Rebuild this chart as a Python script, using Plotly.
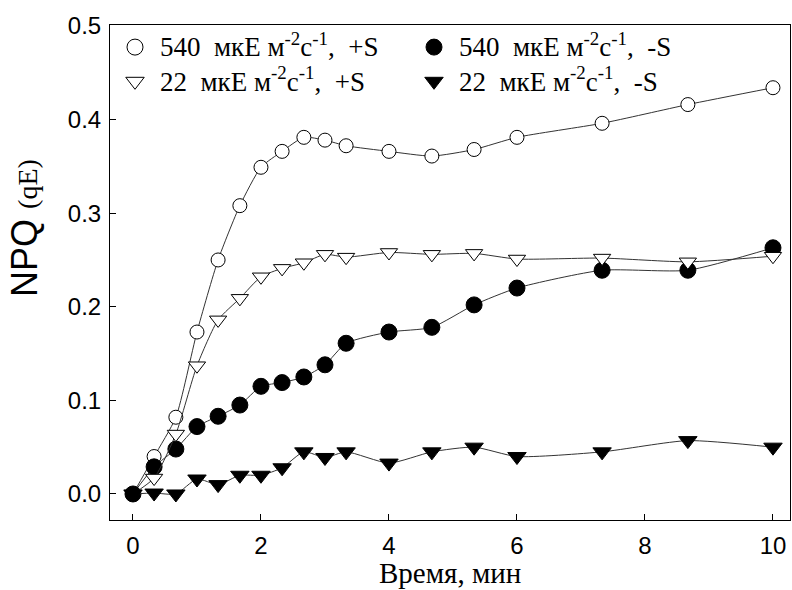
import plotly.graph_objects as go

time_min = [0, 0.33, 0.67, 1, 1.33, 1.67, 2, 2.33, 2.67, 3, 3.33, 4, 4.67, 5.33, 6, 7.33, 8.67, 10]
npq_540_plusS = [0.0, 0.040, 0.082, 0.173, 0.250, 0.308, 0.349, 0.366, 0.381, 0.378, 0.372, 0.366, 0.361, 0.368, 0.381, 0.396, 0.416, 0.434]
npq_540_minusS = [0.0, 0.029, 0.048, 0.072, 0.083, 0.095, 0.115, 0.119, 0.125, 0.138, 0.161, 0.173, 0.178, 0.202, 0.220, 0.239, 0.239, 0.263]
npq_22_plusS = [0.0, 0.017, 0.064, 0.137, 0.186, 0.209, 0.232, 0.241, 0.247, 0.256, 0.253, 0.258, 0.256, 0.257, 0.251, 0.252, 0.248, 0.254]
npq_22_minusS = [0.0, 0.001, 0.0, 0.016, 0.010, 0.020, 0.020, 0.028, 0.045, 0.039, 0.045, 0.033, 0.045, 0.050, 0.040, 0.045, 0.057, 0.050]

unit = "мкЕ м<sup>-2</sup>с<sup>-1</sup>,"
labels = [f"540  {unit}  +S", f"540  {unit}  -S", f"22  {unit}  +S", f"22  {unit}  -S"]
series = [npq_540_plusS, npq_540_minusS, npq_22_plusS, npq_22_minusS]
symbols = ["circle", "circle", "triangle-down", "triangle-down"]
fills = ["white", "black", "white", "black"]
sizes = [14, 16, 15, 16]

fig = go.Figure()
for ys, sym, fc, sz in zip(series, symbols, fills, sizes):
    fig.add_trace(go.Scatter(
        x=time_min, y=ys, mode="lines+markers", showlegend=False,
        line=dict(color="#333333", width=1, shape="spline", smoothing=0.6),
        marker=dict(symbol=sym, size=sz, color=fc, line=dict(color="black", width=1)),
    ))
for lab, sym, fc in zip(labels, symbols, fills):
    fig.add_trace(go.Scatter(
        x=[None], y=[None], mode="markers",
        name=f"<span style='font-size:27px'>{lab}</span>",
        marker=dict(symbol=sym, size=18, color=fc, line=dict(color="black", width=1)),
    ))

axis_common = dict(
    showline=True, linecolor="black", linewidth=1, mirror=True,
    ticks="inside", ticklen=6, tickcolor="black", tickwidth=1,
    showgrid=False, zeroline=False,
    tickfont=dict(family="Liberation Sans, Arial", size=24, color="black"),
)

fig.update_layout(
    width=792, height=590,
    margin=dict(l=110, r=2, t=25, b=70),
    paper_bgcolor="white", plot_bgcolor="white",
    xaxis=dict(range=[-0.359, 10.266], tickvals=[0, 2, 4, 6, 8, 10],
               ticklabelstandoff=4,
               **axis_common),
    yaxis=dict(range=[-0.0278, 0.501], tickvals=[0, 0.1, 0.2, 0.3, 0.4, 0.5],
               tickformat=".1f", ticklabelstandoff=3,
               **axis_common),
    legend=dict(orientation="h", x=0.0, y=1.0, xanchor="left", yanchor="top",
                entrywidth=244, entrywidthmode="pixels", bgcolor="rgba(0,0,0,0)",
                itemwidth=40, itemsizing="trace",
                font=dict(family="Liberation Serif, Times New Roman", size=24, color="black")),
    annotations=[
        dict(text="NPQ <span style='font-family:Liberation Serif;font-size:28px'>(qE)</span>",
             xref="paper", yref="paper", x=-0.125, y=0.59, xanchor="center", yanchor="middle",
             textangle=-90, showarrow=False,
             font=dict(family="Liberation Sans, Arial", size=36, color="black")),
        dict(text="Время, мин",
             xref="paper", yref="paper", x=0.5, y=-0.1414, xanchor="center", yanchor="bottom",
             showarrow=False, borderpad=0,
             font=dict(family="Liberation Serif, Times New Roman", size=29, color="black")),
    ],
)

fig.write_html("out.html")
